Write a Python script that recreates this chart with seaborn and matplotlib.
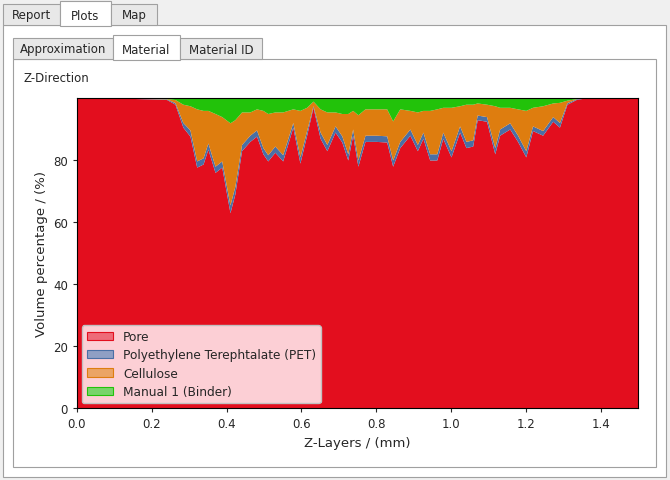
import numpy as np
import matplotlib
matplotlib.use("Agg")
import matplotlib.pyplot as plt
from matplotlib.patches import Rectangle, Patch
import seaborn as sns

# z-layer positions (mm) and volume fractions (%)
z_mm = [0.0, 0.1, 0.2, 0.24, 0.262, 0.283, 0.302, 0.32, 0.337, 0.35, 0.369, 0.387, 0.409, 0.422,
        0.44, 0.462, 0.48, 0.497, 0.51, 0.529, 0.55, 0.577, 0.596, 0.614, 0.631, 0.65, 0.668, 0.69,
        0.708, 0.724, 0.737, 0.751, 0.77, 0.8, 0.828, 0.844, 0.863, 0.89, 0.91, 0.925, 0.943, 0.962,
        0.978, 1.0, 1.023, 1.04, 1.058, 1.07, 1.095, 1.117, 1.13, 1.157, 1.178, 1.2, 1.218, 1.245,
        1.272, 1.29, 1.31, 1.336, 1.36, 1.5]
pore = [100, 100, 99.7, 99.5, 98, 90.6, 87.7, 77.7, 78.7, 83.5, 76, 77.7, 63, 69,
        83, 86, 87.7, 82, 79.7, 82.5, 79.7, 90.6, 79, 88, 97, 87, 83, 89,
        85.8, 80, 88, 78, 86, 86, 85.8, 78, 84, 88, 83, 87, 80, 80,
        87, 81, 89, 84, 84.5, 93, 92.5, 82, 88, 90, 86, 81, 89.5, 88,
        92.5, 90.6, 98, 99.6, 100, 100]
pet = [0, 0, 0.1, 0.2, 0.5, 1.5, 2, 2, 2, 2, 2, 2, 2.5, 2.5,
       2, 2, 2, 2, 2, 2, 2, 1.5, 2, 1.5, 0.5, 2, 2, 2,
       2, 2, 2, 2, 2, 2, 2, 2, 2, 2, 2, 2, 2, 2,
       2, 2, 2, 2, 2, 1.5, 1.5, 2, 2, 2, 2, 2, 1.5, 1.5,
       1.5, 1.5, 0.5, 0.2, 0, 0]
cellulose = [0, 0, 0.1, 0.1, 1, 5.9, 7.8, 16.8, 15.3, 10.5, 17, 14.3, 26.5, 21.5,
             10.5, 7.5, 6.8, 12, 13.3, 11, 13.8, 4.4, 15, 7.5, 1.5, 7.5, 10.5, 4.5,
             7.2, 13, 6, 14.6, 8.5, 8.5, 8.7, 12.6, 10.5, 6, 10.5, 7, 14, 14.5,
             8, 14, 6.5, 12, 11.5, 3.9, 4, 13.5, 7, 5, 8.5, 13, 6, 8,
             4.4, 6.5, 0.8, 0, 0, 0]
binder = list(100 - np.array(pore) - np.array(pet) - np.array(cellulose))

labels = ["Pore", "Polyethylene Terephtalate (PET)", "Cellulose", "Manual 1 (Binder)"]
colors = ["#e30e1e", "#4a6fa5", "#de7d0f", "#22c20a"]
legend_colors = ["#ee6b78", "#8f9fc4", "#eba465", "#78d46a"]

sns.set_style("ticks")
W, H = 670, 481
fig = plt.figure(figsize=(W / 100, H / 100), dpi=100)
fig.patch.set_facecolor("#f0f0f0")

def box(x0, y0, x1, y1, fc, ec="#a0a0a0"):
    fig.add_artist(Rectangle((x0 / W, 1 - y1 / H), (x1 - x0) / W, (y1 - y0) / H,
                             transform=fig.transFigure, fc=fc, ec=ec, lw=0.8, zorder=-5))

# outer panel and tabs
box(3, 26, 666, 478, "#ffffff")
for x0, x1, txt, sel in [(3, 60, "Report", False), (60, 111, "Plots", True), (111, 157, "Map", False)]:
    box(x0, 2 if sel else 5, x1, 27 if sel else 26, "#ffffff" if sel else "#e8e8e8")
    fig.text((x0 + x1) / 2 / W, 1 - 16 / H, txt, ha="center", va="center", fontsize=8.5)
# inner panel and tabs
box(13, 60, 656, 468, "#ffffff")
for x0, x1, txt, sel in [(13, 113, "Approximation", False), (113, 180, "Material", True),
                         (180, 262, "Material ID", False)]:
    box(x0, 36 if sel else 39, x1, 61 if sel else 60, "#ffffff" if sel else "#e8e8e8")
    fig.text((x0 + x1) / 2 / W, 1 - 50 / H, txt, ha="center", va="center", fontsize=8.5)
fig.text(24 / W, 1 - 78 / H, "Z-Direction", ha="left", va="center", fontsize=8.5)

ax = fig.add_axes([77 / W, 1 - 409 / H, 561 / W, 310 / H])
ax.set_facecolor("white")
ax.stackplot(z_mm, pore, pet, cellulose, binder, colors=colors, lw=0)
ax.set_xlim(0, 1.5)
ax.set_ylim(0, 100)
ax.set_yticks([0, 20, 40, 60, 80])
ax.set_xticks([0, 0.2, 0.4, 0.6, 0.8, 1.0, 1.2, 1.4])
ax.tick_params(labelsize=8.5, length=3)
ax.set_xlabel("Z-Layers / (mm)", fontsize=9.5)
ax.set_ylabel("Volume percentage / (%)", fontsize=9.5)
for s in ax.spines.values():
    s.set_visible(True)
    s.set_color("black")
handles = [Patch(fc=c, ec=e, lw=0.8) for c, e in zip(legend_colors, colors)]
leg = ax.legend(handles, labels, loc="lower left", fontsize=8.7, frameon=True,
                facecolor="#fccfd5", edgecolor="#c0c0c0", framealpha=1, fancybox=True,
                handlelength=2.2, borderpad=0.4, labelspacing=0.45, borderaxespad=0.4)

fig.savefig("out.png", dpi=100, facecolor=fig.get_facecolor())
